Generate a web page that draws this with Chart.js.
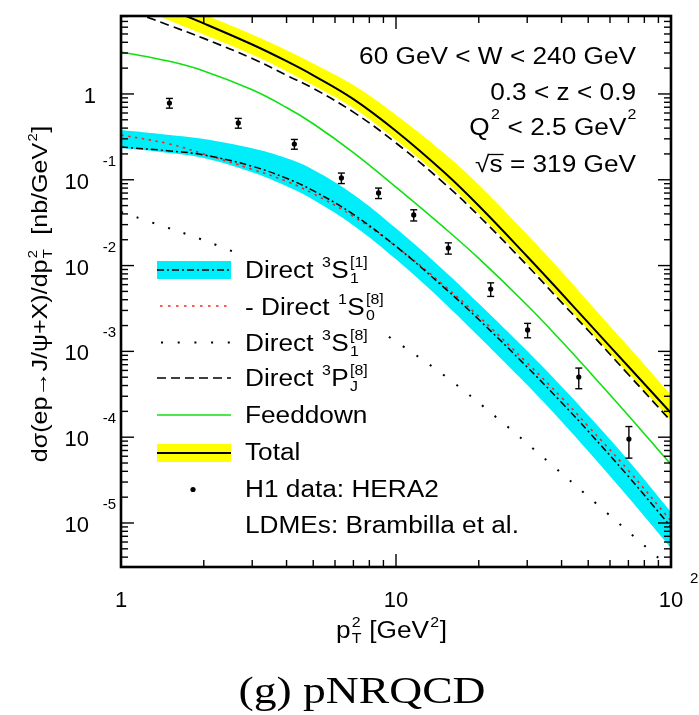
<!DOCTYPE html>
<html><head><meta charset="utf-8">
<script src="https://cdn.jsdelivr.net/npm/chart.js@4.4.1/dist/chart.umd.min.js"></script>
<style>html,body{margin:0;padding:0;background:#fff;overflow:hidden}</style>
</head><body>
<canvas id="c" width="699" height="715" style="width:699px;height:715px;display:block"></canvas>
<script>
// ---------- data ----------
const xs        = [1, 1.5, 2, 3, 4, 5, 7, 10, 15, 20, 30, 40, 50, 70, 100];
const total     = [15.7, 9.66, 6.64, 3.77, 2.41, 1.65, 0.871, 0.370, 0.1213, 0.0497, 0.01276, 4.73e-3, 2.16e-3, 6.67e-4, 1.91e-4];
const totalUp   = [19.5, 11.97, 8.45, 4.93, 3.24, 2.27, 1.268, 0.568, 0.202, 0.0873, 0.0230, 8.54e-3, 3.80e-3, 1.14e-3, 3.10e-4];
const totalLo   = [11.7, 7.19, 4.94, 2.88, 1.84, 1.26, 0.684, 0.290, 0.0979, 0.0401, 0.01057, 3.92e-3, 1.79e-3, 5.52e-4, 1.58e-4];
const pj8       = [10.2, 6.29, 4.44, 2.59, 1.65, 1.163, 0.614, 0.268, 0.0903, 0.0380, 0.01002, 3.72e-3, 1.75e-3, 5.38e-4, 1.54e-4];
const feeddown  = [3.09, 2.40, 1.856, 1.118, 0.695, 0.450, 0.2075, 0.0820, 0.02748, 0.01211, 3.443e-3, 1.312e-3, 5.998e-4, 1.786e-4, 4.81e-5];
const s1c1      = [0.241, 0.2168, 0.1945, 0.1436, 0.1040, 0.0746, 0.0394, 0.01675, 5.50e-3, 2.35e-3, 6.56e-4, 2.535e-4, 1.172e-4, 3.49e-5, 9.0e-6];
const s1c1Up    = [0.380, 0.333, 0.2988, 0.2327, 0.1779, 0.1311, 0.0675, 0.02716, 8.67e-3, 3.61e-3, 1.008e-3, 3.895e-4, 1.80e-4, 5.36e-5, 1.345e-5];
const s1c1Lo    = [0.2346, 0.2055, 0.1795, 0.1222, 0.0839, 0.0586, 0.02937, 0.01181, 3.674e-3, 1.489e-3, 4.046e-4, 1.523e-4, 6.85e-5, 1.987e-5, 5.12e-6];
const s0c8neg   = [0.3324, 0.2617, 0.1998, 0.1324, 0.0959, 0.0689, 0.03738, 0.01675, 5.80e-3, 2.547e-3, 7.31e-4, 2.90e-4, 1.341e-4, 4.10e-5, 1.056e-5];
const s1c8X     = [1, 1.19, 2.27, 4, 6, 9.79, 15.4, 23.4, 35.9, 54.2, 82.5, 100];
const s1c8      = [0.042, 0.0349, 0.0169, 7.6e-3, 3.66e-3, 1.36e-3, 4.9e-4, 1.66e-4, 5.13e-5, 1.62e-5, 5.0e-6, 2.9e-6];
const h1X       = [1.5, 2.67, 4.27, 6.33, 8.64, 11.6, 15.5, 22.1, 30.1, 46.2, 70.3];
const h1Y       = [0.785, 0.459, 0.261, 0.105, 0.0702, 0.0389, 0.0160, 5.33e-3, 1.78e-3, 5.03e-4, 9.5e-5];
const h1Err     = [0.102, 0.060, 0.034, 0.0147, 0.0098, 0.0058, 0.0024, 9.6e-4, 3.4e-4, 1.36e-4, 3.8e-5];
const xTickVals = [1, 10, 100];
const xTickBase = ['1', '10', '10'];
const xTickExp  = ['', '', '2'];
const yTickVals = [1, 1e-1, 1e-2, 1e-3, 1e-4, 1e-5];
const yTickBase = ['1', '10', '10', '10', '10', '10'];
const yTickExp  = ['', '-1', '-2', '-3', '-4', '-5'];

const SANS = '"Liberation Sans", Arial, Helvetica, sans-serif';
const SERIF = '"Liberation Serif", "Times New Roman", serif';
const CYAN = '#00eefa', YELLOW = '#ffff00', GREEN = '#10e010', RED = '#ff2020';

const pts = (X, Y) => X.map((x, i) => ({x, y: Y[i]}));

// ---------- rich text helper ----------
function richWidth(ctx, segs, o) {
  let w = 0;
  for (const s of segs) {
    if (s.t !== undefined) { ctx.font = `${o.fs}px ${o.fam}`; w += ctx.measureText(s.t).width; }
    else {
      ctx.font = `${o.ss}px ${o.fam}`;
      const a = s.u ? ctx.measureText(s.u).width : 0, b = s.d ? ctx.measureText(s.d).width : 0;
      w += Math.max(a, b) + 1.5;
    }
  }
  return w;
}
function rich(ctx, segs, x, y, o) {
  const sx = o.sx || 1;
  const w = richWidth(ctx, segs, o) * sx;
  let x0 = x;
  if (o.align === 'right') x0 = x - w; else if (o.align === 'center') x0 = x - w / 2;
  ctx.save();
  ctx.translate(x0, y);
  ctx.scale(sx, 1);
  ctx.fillStyle = o.color || '#000';
  ctx.textBaseline = 'alphabetic'; ctx.textAlign = 'left';
  let cx = 0;
  for (const s of segs) {
    if (s.t !== undefined) { ctx.font = `${o.fs}px ${o.fam}`; ctx.fillText(s.t, cx, 0); cx += ctx.measureText(s.t).width; }
    else {
      ctx.font = `${o.ss}px ${o.fam}`;
      let a = 0, b = 0;
      if (s.u) { ctx.fillText(s.u, cx + 1, -o.raise); a = ctx.measureText(s.u).width; }
      if (s.d) { ctx.fillText(s.d, cx + 1, o.drop); b = ctx.measureText(s.d).width; }
      cx += Math.max(a, b) + 1.5;
    }
  }
  ctx.restore();
  return w;
}
function seg(ctx, x1, y1, x2, y2) { ctx.beginPath(); ctx.moveTo(x1, y1); ctx.lineTo(x2, y2); ctx.stroke(); }

// ---------- decorations plugin ----------
const decor = {
  id: 'decor',
  afterDatasetsDraw(chart) {
    const ctx = chart.ctx, xa = chart.scales.x, ya = chart.scales.y;
    // error bars
    ctx.save();
    ctx.strokeStyle = '#000'; ctx.lineWidth = 1.4;
    h1X.forEach((xv, i) => {
      const px = xa.getPixelForValue(xv);
      const pt = ya.getPixelForValue(h1Y[i] + h1Err[i]);
      const pb = ya.getPixelForValue(h1Y[i] - h1Err[i]);
      seg(ctx, px, pt, px, pb);
      seg(ctx, px - 3.5, pt, px + 3.5, pt);
      seg(ctx, px - 3.5, pb, px + 3.5, pb);
    });
    ctx.restore();
    // opaque legend box
    ctx.save();
    ctx.fillStyle = '#fff';
    ctx.fillRect(150, 253, 235, 252);
    ctx.restore();
  },
  afterDraw(chart) {
    const ctx = chart.ctx, xa = chart.scales.x, ya = chart.scales.y, ca = chart.chartArea;
    ctx.save();
    ctx.strokeStyle = '#000';
    // ticks
    ctx.lineWidth = 1.4;
    for (let d = 0; d <= 2; d++) for (let k = 1; k <= 9; k++) {
      const v = k * Math.pow(10, d); if (v > 100) break;
      const px = xa.getPixelForValue(v), L = k === 1 ? 13 : 7;
      seg(ctx, px, ca.bottom, px, ca.bottom - L);
      seg(ctx, px, ca.top, px, ca.top + L);
    }
    for (let d = -6; d <= 0; d++) for (let k = 1; k <= 9; k++) {
      const v = k * Math.pow(10, d); if (v < ya.min || v > ya.max) continue;
      const py = ya.getPixelForValue(v), L = k === 1 ? 13 : 7;
      seg(ctx, ca.left, py, ca.left + L, py);
      seg(ctx, ca.right, py, ca.right - L, py);
    }
    // frame
    ctx.lineWidth = 2.6;
    ctx.strokeRect(ca.left, ca.top, ca.right - ca.left, ca.bottom - ca.top);
    ctx.restore();

    ctx.save();
    ctx.fillStyle = '#000';
    // x tick labels
    xTickVals.forEach((v, i) => {
      const px = xa.getPixelForValue(v);
      ctx.font = `22px ${SANS}`; ctx.textAlign = 'center'; ctx.textBaseline = 'alphabetic';
      ctx.fillText(xTickBase[i], px, 607);
      if (xTickExp[i]) { ctx.font = `15px ${SANS}`; ctx.textAlign = 'left'; ctx.fillText(xTickExp[i], px + 19, 583); }
    });
    // y tick labels
    yTickVals.forEach((v, i) => {
      const py = ya.getPixelForValue(v);
      ctx.textBaseline = 'alphabetic'; ctx.textAlign = 'right';
      if (!yTickExp[i]) { ctx.font = `22px ${SANS}`; ctx.fillText(yTickBase[i], 96, py + 9); }
      else {
        ctx.font = `22px ${SANS}`; ctx.fillText(yTickBase[i], 89, py + 9);
        ctx.font = `15px ${SANS}`; ctx.fillText(yTickExp[i], 116, py - 14);
      }
    });
    ctx.restore();

    const T = {fs: 23, ss: 14, fam: SANS, sx: 1.14, raise: 11, drop: 5};
    // x axis title
    rich(ctx, [{t: 'p'}, {d: 'T', u: '2'}, {t: ' [GeV'}, {u: '2'}, {t: ']'}], 336, 638, T);
    // y axis title (rotated)
    ctx.save();
    ctx.translate(47, 294);
    ctx.rotate(-Math.PI / 2);
    rich(ctx, [{t: 'd\u03C3(ep\u2192J/\u03C8+X)/dp'}, {d: 'T', u: '2'}, {t: '  [nb/GeV'}, {u: '2'}, {t: ']'}], 0, 0,
      {fs: 22, ss: 13, fam: SANS, sx: 1.14, raise: 10, drop: 5, align: 'center'});
    ctx.restore();

    // top-right texts
    const R = {fs: 23, ss: 14, fam: SANS, sx: 1.14, raise: 16, drop: 5, align: 'right'};
    rich(ctx, [{t: '60 GeV < W < 240 GeV'}], 636, 64, R);
    rich(ctx, [{t: '0.3 < z < 0.9'}], 636, 100, R);
    rich(ctx, [{t: 'Q'}, {u: '2'}, {t: ' < 2.5 GeV'}, {u: '2'}], 637, 135, R);
    const w3 = rich(ctx, [{t: '\u221As = 319 GeV'}], 636, 172, R);
    // overline of sqrt
    ctx.font = `23px ${SANS}`;
    const rw = ctx.measureText('\u221A').width * 1.14, sw = ctx.measureText('s').width * 1.14;
    ctx.save(); ctx.strokeStyle = '#000'; ctx.lineWidth = 1.3;
    seg(ctx, 636 - w3 + rw - 1, 154.5, 636 - w3 + rw + sw + 1, 154.5); ctx.restore();

    // legend
    ctx.save();
    const L0 = 157, L1 = 231;
    ctx.fillStyle = CYAN; ctx.fillRect(L0, 261, L1 - L0, 18);
    ctx.strokeStyle = '#000'; ctx.lineWidth = 1.5; ctx.setLineDash([7, 3, 2, 3]); seg(ctx, L0, 270, L1, 270);
    ctx.strokeStyle = RED; ctx.lineWidth = 1.6; ctx.setLineDash([2.5, 5.5]); seg(ctx, L0 + 3, 306, L1, 306);
    ctx.strokeStyle = '#000'; ctx.lineWidth = 2; ctx.setLineDash([2, 14.7]); seg(ctx, L0 + 4, 342.5, L1, 342.5);
    ctx.lineWidth = 1.6; ctx.setLineDash([9, 5]); seg(ctx, L0, 378, L1, 378);
    ctx.strokeStyle = GREEN; ctx.lineWidth = 1.6; ctx.setLineDash([]); seg(ctx, L0, 415, L1, 415);
    ctx.fillStyle = YELLOW; ctx.fillRect(L0, 444, L1 - L0, 18);
    ctx.strokeStyle = '#000'; ctx.lineWidth = 2.2; seg(ctx, L0, 453, L1, 453);
    ctx.fillStyle = '#000'; ctx.beginPath(); ctx.arc(193, 489.5, 2.6, 0, Math.PI * 2); ctx.fill();
    ctx.restore();
    const G = {fs: 23, ss: 14, fam: SANS, sx: 1.14, raise: 11, drop: 5};
    rich(ctx, [{t: 'Direct '}, {u: '3'}, {t: 'S'}, {d: '1', u: '[1]'}], 245, 278, G);
    rich(ctx, [{t: '- Direct '}, {u: '1'}, {t: 'S'}, {d: '0', u: '[8]'}], 245, 315, G);
    rich(ctx, [{t: 'Direct '}, {u: '3'}, {t: 'S'}, {d: '1', u: '[8]'}], 245, 351, G);
    rich(ctx, [{t: 'Direct '}, {u: '3'}, {t: 'P'}, {d: 'J', u: '[8]'}], 245, 386, G);
    rich(ctx, [{t: 'Feeddown'}], 245, 423, G);
    rich(ctx, [{t: 'Total'}], 245, 460, G);
    rich(ctx, [{t: 'H1 data: HERA2'}], 245, 497, G);
    rich(ctx, [{t: 'LDMEs: Brambilla et al.'}], 245, 533, G);

    // caption
    rich(ctx, [{t: '(g) pNRQCD'}], 362, 703, {fs: 38, ss: 20, fam: SERIF, sx: 1.2, raise: 0, drop: 0, align: 'center'});
  }
};

const lineDS = (label, X, Y, color, width, dash, order) => ({
  label, data: pts(X, Y), borderColor: color, borderWidth: width, borderDash: dash,
  pointRadius: 0, fill: false, tension: 0.4, order, clip: 0
});
const bandDS = (label, Y, color, fillTarget, order) => ({
  label, data: pts(xs, Y), borderColor: 'rgba(0,0,0,0)', borderWidth: 0, backgroundColor: color,
  pointRadius: 0, fill: fillTarget, tension: 0.4, order, clip: 0
});

new Chart(document.getElementById('c'), {
  type: 'line',
  data: {
    datasets: [
      bandDS('s1c1 up', s1c1Up, CYAN, '+1', 10),
      bandDS('s1c1 lo', s1c1Lo, CYAN, false, 10),
      bandDS('total up', totalUp, YELLOW, '+1', 9),
      bandDS('total lo', totalLo, YELLOW, false, 9),
      lineDS('Direct 3S1[8]', s1c8X, s1c8, '#000', 2, [2, 14.5], 5),
      lineDS('- Direct 1S0[8]', xs, s0c8neg, RED, 1.6, [2.5, 4.5], 4),
      lineDS('Direct 3S1[1]', xs, s1c1, '#000', 1.5, [7, 3, 2, 3], 3),
      lineDS('Direct 3PJ[8]', xs, pj8, '#000', 1.7, [9, 5], 3),
      lineDS('Feeddown', xs, feeddown, GREEN, 1.6, [], 3),
      lineDS('Total', xs, total, '#000', 2, [], 2),
      {label: 'H1 data: HERA2', data: pts(h1X, h1Y), showLine: false, pointRadius: 2.6,
       pointBackgroundColor: '#000', pointBorderColor: '#000', pointBorderWidth: 0, order: 0, clip: 0}
    ]
  },
  options: {
    responsive: false, animation: false, events: [],
    layout: {padding: {left: 121, right: 28, top: 16, bottom: 148}},
    scales: {
      x: {type: 'logarithmic', min: 1, max: 100, display: false},
      y: {type: 'logarithmic', min: 3.07e-6, max: 8.1, display: false}
    },
    plugins: {legend: {display: false}, tooltip: {enabled: false}, filler: {propagate: false}}
  },
  plugins: [decor]
});
</script>
</body></html>
